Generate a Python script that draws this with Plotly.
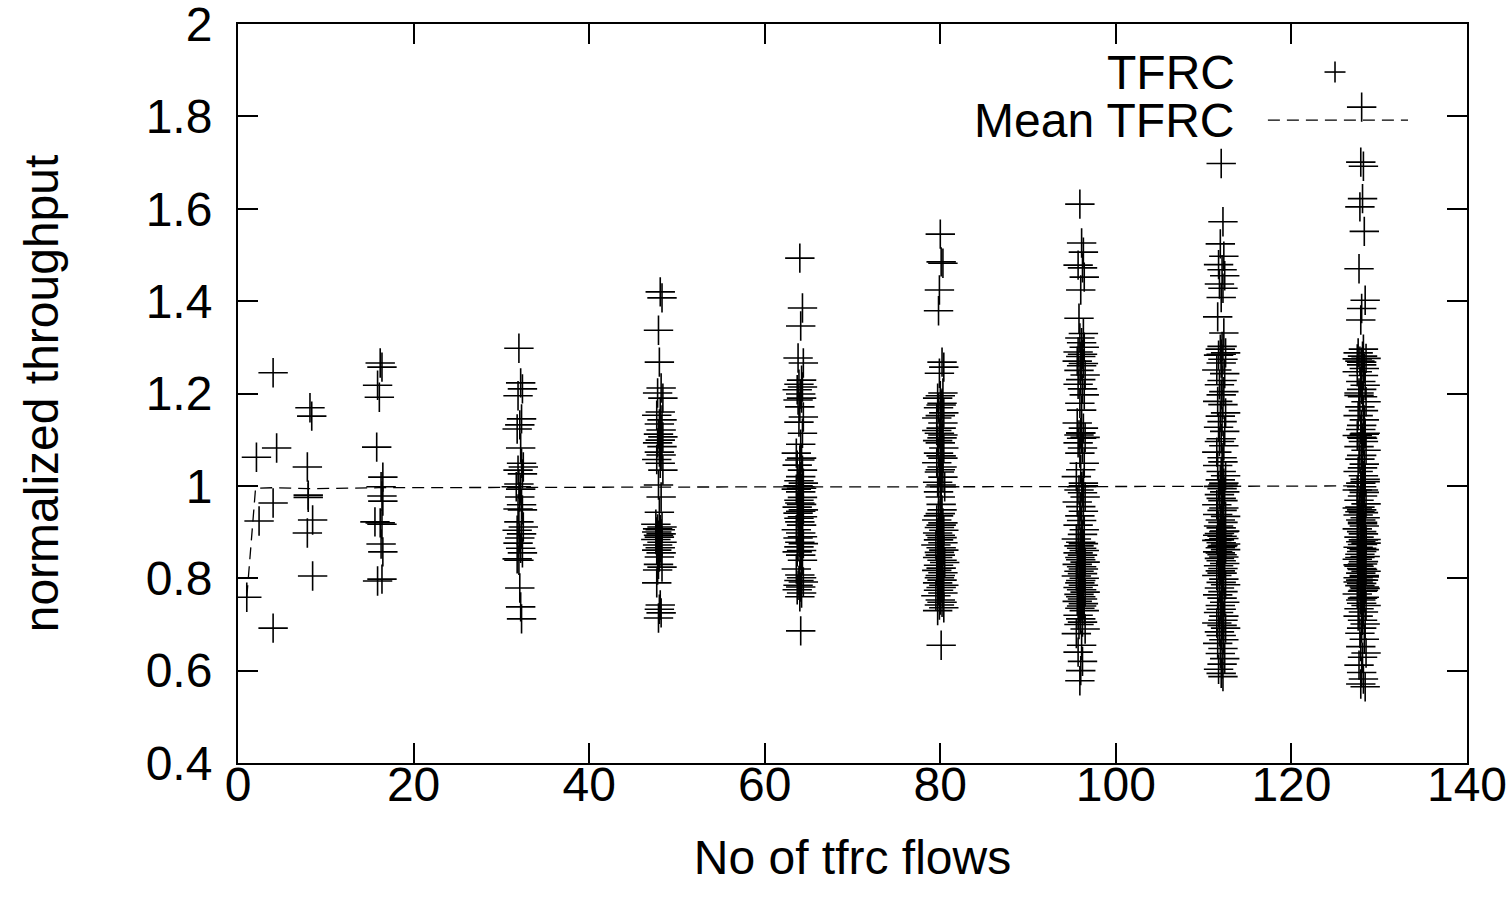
import plotly.graph_objects as go

# ---------------- data ----------------
flows = [1, 2, 4, 8, 16, 32, 48, 64, 80, 96, 112, 128]

y1 = [0.759]
y2 = [1.062, 0.924]
y4 = [1.245, 1.082, 0.963, 0.692]
y8 = [1.169, 1.151, 1.041, 0.980, 0.975, 0.926, 0.898, 0.805]
y16 = [1.266, 1.257, 1.218, 1.192, 1.084, 1.019, 0.998, 0.978, 0.967, 0.922,
       0.920, 0.917, 0.874, 0.857, 0.794, 0.798]
y32 = [1.298, 1.223, 1.210, 1.195, 1.145, 1.132, 1.123, 1.082, 1.049, 1.041,
       1.034, 1.026, 1.004, 0.998, 0.993, 0.976, 0.959, 0.950, 0.948, 0.922,
       0.911, 0.904, 0.896, 0.887, 0.876, 0.865, 0.855, 0.842, 0.839, 0.779,
       0.738, 0.712]
y48 = [1.420, 1.407, 1.337, 1.268, 1.212, 1.201, 1.190, 1.160, 1.153, 1.143,
       1.134, 1.121, 1.112, 1.106, 1.099, 1.093, 1.085, 1.073, 1.067, 1.057,
       1.049, 1.034, 1.002, 0.976, 0.943, 0.917, 0.911, 0.907, 0.905, 0.900,
       0.896, 0.893, 0.889, 0.884, 0.878, 0.872, 0.866, 0.861, 0.855, 0.846,
       0.830, 0.824, 0.818, 0.790, 0.742, 0.733, 0.725, 0.714]
y64 = [1.493, 1.385, 1.346, 1.277, 1.266, 1.229, 1.220, 1.214, 1.208, 1.199,
       1.190, 1.186, 1.171, 1.149, 1.138, 1.114, 1.090, 1.071, 1.060, 1.056,
       1.045, 1.034, 1.020, 1.011, 1.006, 1.000, 0.998, 0.995, 0.993, 0.987,
       0.975, 0.969, 0.963, 0.960, 0.954, 0.948, 0.945, 0.941, 0.933, 0.930,
       0.922, 0.915, 0.905, 0.898, 0.890, 0.887, 0.878, 0.875, 0.868, 0.860,
       0.857, 0.850, 0.839, 0.820, 0.807, 0.801, 0.795, 0.792, 0.785, 0.781,
       0.775, 0.768, 0.760, 0.686]
y80 = [1.545, 1.485, 1.482, 1.424, 1.379, 1.268, 1.257, 1.244, 1.201, 1.195,
       1.190, 1.179, 1.175, 1.169, 1.158, 1.152, 1.147, 1.136, 1.125, 1.114,
       1.104, 1.098, 1.093, 1.082, 1.071, 1.065, 1.060, 1.050, 1.041, 1.035,
       1.030, 1.019, 1.008, 1.002, 0.998, 0.987, 0.976, 0.948, 0.926, 0.920,
       0.915, 0.910, 0.904, 0.898, 0.893, 0.888, 0.883, 0.877, 0.872, 0.866,
       0.861, 0.856, 0.850, 0.845, 0.839, 0.834, 0.828, 0.822, 0.817, 0.812,
       0.806, 0.801, 0.796, 0.790, 0.785, 0.780, 0.774, 0.768, 0.762, 0.753,
       0.748, 0.742, 0.736, 0.730, 0.960, 0.935, 1.110, 0.940, 1.120, 0.655]
y96 = [1.610, 1.526, 1.506, 1.478, 1.472, 1.452, 1.424, 1.363, 1.330, 1.320,
       1.310, 1.300, 1.290, 1.285, 1.280, 1.270, 1.265, 1.260, 1.250, 1.240,
       1.230, 1.220, 1.210, 1.197, 1.179, 1.164, 1.136, 1.125, 1.114, 1.110,
       1.105, 1.103, 1.093, 1.082, 1.071, 1.049, 1.035, 1.020, 1.006, 0.998,
       0.991, 0.985, 0.976, 0.965, 0.955, 0.945, 0.935, 0.925, 0.915, 0.905,
       0.895, 0.885, 0.878, 0.875, 0.870, 0.865, 0.860, 0.855, 0.850, 0.845,
       0.840, 0.835, 0.830, 0.825, 0.820, 0.815, 0.810, 0.805, 0.800, 0.795,
       0.790, 0.785, 0.780, 0.775, 0.770, 0.765, 0.760, 0.755, 0.750, 0.745,
       0.740, 0.735, 0.730, 0.720, 0.712, 0.705, 0.700, 0.690, 0.680, 0.655,
       0.640, 0.620, 0.600, 0.578, 1.115, 1.000]
y112 = [1.698, 1.572, 1.524, 1.497, 1.479, 1.468, 1.455, 1.437, 1.428, 1.408,
        1.366, 1.331, 1.302, 1.296, 1.288, 1.283, 1.274, 1.266, 1.251, 1.243,
        1.228, 1.219, 1.204, 1.197, 1.183, 1.176, 1.158, 1.151, 1.139, 1.127,
        1.118, 1.102, 1.096, 1.087, 1.073, 1.061, 1.052, 1.044, 1.031, 1.022,
        1.013, 1.006, 0.999, 0.994, 0.987, 0.981, 0.973, 0.968, 0.959, 0.952,
        0.947, 0.938, 0.934, 0.926, 0.921, 0.913, 0.909, 0.902, 0.897, 0.891,
        0.886, 0.882, 0.877, 0.871, 0.866, 0.862, 0.857, 0.851, 0.846, 0.843,
        0.838, 0.832, 0.827, 0.821, 0.816, 0.811, 0.806, 0.798, 0.791, 0.786,
        0.779, 0.771, 0.764, 0.757, 0.748, 0.741, 0.733, 0.726, 0.718, 0.709,
        0.703, 0.698, 0.692, 0.684, 0.676, 0.667, 0.659, 0.648, 0.637, 0.626,
        0.614, 0.603, 0.594, 0.587, 0.883, 0.874, 0.893, 0.869, 0.901, 0.855,
        1.285, 1.002]
y128 = [1.820, 1.701, 1.692, 1.622, 1.604, 1.551, 1.470, 1.402, 1.384, 1.359,
        1.296, 1.288, 1.281, 1.276, 1.270, 1.262, 1.254, 1.247, 1.239, 1.226,
        1.218, 1.209, 1.201, 1.193, 1.182, 1.171, 1.163, 1.152, 1.143, 1.131,
        1.122, 1.114, 1.109, 1.103, 1.096, 1.085, 1.077, 1.066, 1.058, 1.047,
        1.039, 1.031, 1.022, 1.014, 1.006, 0.998, 0.991, 0.986, 0.978, 0.969,
        0.961, 0.954, 0.948, 0.942, 0.937, 0.931, 0.926, 0.918, 0.913, 0.907,
        0.901, 0.896, 0.889, 0.884, 0.879, 0.873, 0.867, 0.862, 0.858, 0.852,
        0.847, 0.841, 0.836, 0.831, 0.826, 0.821, 0.815, 0.811, 0.806, 0.801,
        0.796, 0.789, 0.784, 0.778, 0.772, 0.766, 0.759, 0.753, 0.746, 0.741,
        0.734, 0.727, 0.718, 0.709, 0.701, 0.692, 0.681, 0.668, 0.652, 0.638,
        0.629, 0.612, 0.596, 0.582, 0.571, 0.565, 1.275, 1.112, 1.105, 0.944,
        0.883, 0.876, 0.829, 0.819, 0.796, 0.781, 1.268, 1.196, 1.009, 0.991,
        0.952, 0.921, 0.865, 0.845, 0.803, 0.792, 0.774, 0.757]

# per-point x offsets (jitter)
dx1 = [0.0]
dx2 = [0.1, 0.4]
dx4 = [0.0, 0.4, 0.0, 0.0]
dx8 = [0.2, 0.4, -0.1, 0.0, 0.0, 0.5, -0.1, 0.5]
dx16 = [0.2, 0.4, -0.1, 0.1, -0.2, 0.5, 0.3, 0.4, 0.5, -0.4,
        0.2, 0.4, 0.3, 0.5, -0.1, 0.4]
dx32 = [0.0, 0.2, 0.4, -0.1, 0.3, 0.1, -0.2, 0.2, 0.3, 0.5,
        -0.1, 0.4, 0.0, -0.3, 0.2, 0.1, 0.3, -0.1, 0.4, 0.0,
        0.5, -0.2, 0.3, 0.1, -0.1, 0.2, 0.4, -0.2, 0.0, 0.1,
        0.2, 0.3]
dx48 = [0.1, 0.3, -0.1, 0.0, 0.2, -0.2, 0.4, 0.1, -0.3, 0.3,
        0.0, 0.2, -0.1, 0.4, 0.1, -0.2, 0.3, 0.0, 0.2, -0.3,
        0.1, 0.4, -0.1, 0.2, 0.0, -0.4, 0.3, -0.2, 0.1, -0.3,
        0.2, -0.1, 0.0, -0.4, 0.3, -0.2, 0.1, -0.3, 0.2, 0.0,
        -0.1, 0.3, -0.2, -0.3, 0.1, 0.0, 0.2, -0.1]
dx64 = [0.0, 0.3, 0.1, -0.2, 0.4, 0.2, -0.1, 0.3, -0.3, 0.1,
        0.2, -0.2, 0.0, 0.4, -0.1, 0.3, 0.1, -0.4, 0.2, 0.0,
        -0.3, 0.3, 0.1, -0.1, 0.4, -0.2, 0.0, 0.2, -0.4, 0.1,
        0.3, -0.1, 0.0, 0.2, -0.3, 0.4, 0.1, -0.2, 0.3, -0.1,
        0.0, 0.2, -0.4, 0.1, 0.3, -0.2, 0.0, 0.4, -0.1, 0.2,
        -0.3, 0.1, 0.3, -0.4, 0.0, 0.2, -0.1, 0.4, -0.2, 0.1,
        -0.3, 0.2, 0.0, 0.1]
dx80 = [0.0, 0.1, 0.3, -0.1, -0.2, 0.2, 0.4, -0.1, 0.3, 0.0,
        -0.3, 0.2, 0.1, -0.2, 0.4, 0.0, -0.4, 0.3, 0.1, -0.1,
        0.2, -0.3, 0.0, 0.4, -0.2, 0.1, 0.3, -0.4, 0.2, 0.0,
        -0.1, 0.3, -0.3, 0.1, 0.5, -0.2, 0.0, 0.2, -0.4, 0.3,
        0.1, -0.1, 0.4, -0.3, 0.0, 0.2, -0.2, 0.3, -0.5, 0.1,
        0.4, -0.1, 0.0, -0.3, 0.2, 0.5, -0.2, 0.1, -0.4, 0.3,
        0.0, -0.1, 0.2, -0.3, 0.4, 0.1, -0.2, 0.3, -0.5, 0.0,
        0.2, -0.1, 0.4, -0.3, 0.1, -0.2, 0.3, 0.0, -0.4, 0.1]
dx96 = [-0.1, 0.1, 0.3, -0.3, 0.2, 0.4, 0.0, -0.2, 0.3, -0.1,
        0.1, 0.4, -0.3, 0.2, 0.0, -0.4, 0.3, 0.1, -0.2, 0.5,
        0.0, -0.3, 0.2, 0.4, -0.1, 0.1, -0.4, 0.3, 0.0, -0.2,
        0.5, 0.1, -0.3, 0.2, -0.1, 0.4, 0.0, -0.5, 0.3, 0.1,
        -0.2, 0.2, 0.5, -0.4, 0.0, 0.3, -0.1, 0.1, -0.3, 0.4,
        0.2, -0.5, 0.0, 0.3, -0.2, 0.1, 0.4, -0.3, 0.2, -0.1,
        0.0, 0.5, -0.4, 0.1, 0.3, -0.2, 0.2, -0.5, 0.4, 0.0,
        -0.1, 0.3, -0.3, 0.1, 0.5, -0.2, 0.0, 0.2, -0.4, 0.3,
        0.1, -0.1, 0.4, -0.3, 0.0, 0.2, -0.2, 0.5, -0.5, 0.1,
        -0.3, 0.2, 0.0, -0.1, 0.0, 0.3]
dx112 = [0.0, 0.2, -0.1, 0.3, -0.3, 0.1, 0.4, -0.2, 0.2, 0.0,
         -0.4, 0.3, 0.1, -0.1, 0.5, -0.3, 0.2, 0.0, -0.5, 0.4,
         0.1, -0.2, 0.3, 0.0, -0.4, 0.2, 0.5, -0.1, 0.1, -0.3,
         0.4, 0.0, -0.2, 0.3, -0.5, 0.1, 0.2, -0.4, 0.0, 0.5,
         -0.1, 0.3, -0.3, 0.1, 0.4, -0.2, 0.0, 0.2, -0.5, 0.3,
         0.1, -0.4, 0.5, -0.1, 0.2, -0.3, 0.0, 0.4, -0.2, 0.1,
         0.3, -0.5, 0.0, 0.2, -0.1, 0.5, -0.4, 0.1, 0.3, -0.2,
         0.0, 0.4, -0.3, 0.2, -0.1, 0.1, -0.5, 0.3, 0.0, 0.5,
         -0.2, 0.2, -0.4, 0.1, 0.4, -0.1, 0.0, -0.3, 0.3, 0.2,
         -0.5, 0.1, 0.5, -0.2, 0.0, 0.3, -0.4, 0.2, -0.1, 0.4,
         0.1, -0.3, 0.0, 0.2, -0.2, 0.5, -0.4, 0.1, 0.3, -0.1,
         0.0, 0.2]
dx128 = [0.0, -0.1, 0.2, 0.1, -0.2, 0.3, -0.3, 0.4, 0.0, -0.1,
         0.2, -0.4, 0.1, 0.5, -0.2, 0.0, 0.3, -0.5, 0.2, -0.1,
         0.4, 0.0, -0.3, 0.1, 0.5, -0.2, 0.2, -0.4, 0.3, 0.0,
         -0.1, 0.4, -0.5, 0.1, 0.2, -0.3, 0.5, 0.0, -0.2, 0.3,
         0.1, -0.4, 0.2, 0.4, -0.1, 0.0, -0.5, 0.3, 0.1, -0.3,
         0.5, -0.2, 0.0, 0.2, -0.4, 0.4, -0.1, 0.1, 0.3, -0.5,
         0.0, 0.2, -0.3, 0.5, -0.1, 0.1, -0.4, 0.3, 0.0, -0.2,
         0.4, -0.5, 0.2, 0.1, -0.3, 0.0, 0.5, -0.1, 0.3, -0.4,
         0.2, 0.0, -0.2, 0.4, 0.1, -0.5, 0.3, -0.1, 0.0, 0.5,
         -0.3, 0.2, -0.4, 0.1, 0.4, 0.0, -0.2, 0.3, -0.1, 0.5,
         0.1, -0.3, 0.0, 0.2, -0.1, 0.4, -0.5, 0.3, 0.0, -0.2,
         0.2, 0.5, -0.4, 0.1, -0.1, 0.3, 0.0, -0.3, 0.4, 0.2,
         -0.5, 0.1, 0.0, -0.2, 0.3, -0.4, 0.2, 0.1]

# mean normalized throughput per flow count
mean_tfrc = [0.759, 0.995, 0.996, 0.994, 0.996, 0.997, 0.997, 0.998,
             0.998, 0.998, 0.999, 1.000]

x_ticks = [0, 20, 40, 60, 80, 100, 120, 140]
y_ticks = [0.4, 0.6, 0.8, 1.0, 1.2, 1.4, 1.6, 1.8, 2.0]
y_tick_text = ["0.4", "0.6", "0.8", "1", "1.2", "1.4", "1.6", "1.8", "2"]

# ---------------- build ----------------
ys = [y1, y2, y4, y8, y16, y32, y48, y64, y80, y96, y112, y128]
dxs = [dx1, dx2, dx4, dx8, dx16, dx32, dx48, dx64, dx80, dx96, dx112, dx128]
px, py = [], []
for n, yl, dl in zip(flows, ys, dxs):
    for i, v in enumerate(yl):
        d = dl[i] if i < len(dl) else 0.0
        px.append(n + d)
        py.append(v)

FONT = "Liberation Sans, Arial, Helvetica, sans-serif"
FS = 48

fig = go.Figure()
fig.add_trace(go.Scatter(
    x=flows, y=mean_tfrc, mode="lines",
    line=dict(color="black", width=1.3, dash="12px,7px"),
    showlegend=False, hoverinfo="skip"))
fig.add_trace(go.Scatter(
    x=px, y=py, mode="markers",
    marker=dict(symbol="cross-thin", size=21, color="black",
                line=dict(color="black", width=1.6)),
    showlegend=False))

axis_common = dict(
    showgrid=False, zeroline=False, showline=True, linecolor="black",
    linewidth=2, mirror="ticks", ticks="inside", ticklen=20, tickwidth=2,
    tickcolor="black", tickfont=dict(family=FONT, size=FS, color="black"),
    ticklabeloverflow="allow",
)

fig.update_layout(
    width=1511, height=909,
    margin=dict(l=238, r=44, t=24, b=146, autoexpand=False),
    paper_bgcolor="white", plot_bgcolor="white",
    font=dict(family=FONT, size=FS, color="black"),
    xaxis=dict(range=[0, 140], tickvals=x_ticks, ticklabelstandoff=-22,
               title=dict(text="No of tfrc flows", standoff=31,
                          font=dict(family=FONT, size=FS)),
               **axis_common),
    yaxis=dict(range=[0.4, 2.0], tickvals=y_ticks, ticktext=y_tick_text,
               ticklabelstandoff=14,
               title=dict(text="normalized throughput", standoff=72,
                          font=dict(family=FONT, size=FS)),
               **axis_common),
)

# legend (gnuplot style: text then sample)
fig.add_annotation(xref="paper", yref="paper", x=0.8129, y=0.935,
                   xanchor="right", yanchor="middle", text="TFRC",
                   showarrow=False, font=dict(family=FONT, size=FS))
fig.add_annotation(xref="paper", yref="paper", x=0.8129, y=0.870,
                   xanchor="right", yanchor="middle", text="Mean TFRC",
                   showarrow=False, font=dict(family=FONT, size=FS))
lx, ly = 0.8926, 0.935
fig.add_shape(type="line", xref="paper", yref="paper", xsizemode="pixel",
              xanchor=lx, x0=-10.5, x1=10.5, y0=ly, y1=ly,
              line=dict(color="black", width=1.6))
fig.add_shape(type="line", xref="paper", yref="paper", ysizemode="pixel",
              yanchor=ly, y0=-10.5, y1=10.5, x0=lx, x1=lx,
              line=dict(color="black", width=1.6))
fig.add_shape(type="line", xref="paper", yref="paper",
              x0=0.838, x1=0.952, y0=0.870, y1=0.870,
              line=dict(color="black", width=1.3, dash="12px,7px"))

fig.write_html("out.html")
